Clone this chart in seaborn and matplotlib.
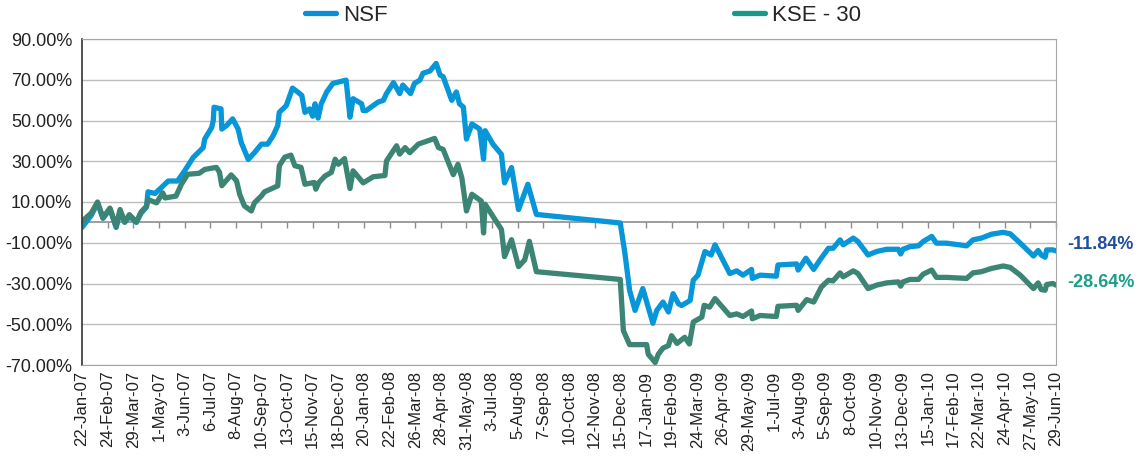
import pandas as pd
import numpy as np
import seaborn as sns
import matplotlib
matplotlib.use("Agg")
import matplotlib.pyplot as plt
import matplotlib.dates as mdates
from matplotlib.lines import Line2D
from matplotlib.transforms import blended_transform_factory

# values (cumulative return, %)
nsf_dates = [
    "2007-01-22", "2007-02-03", "2007-02-11", "2007-02-18", "2007-02-27", "2007-03-07",
    "2007-03-12", "2007-03-18", "2007-03-24", "2007-04-02", "2007-04-08", "2007-04-15",
    "2007-04-17", "2007-04-26", "2007-05-04", "2007-05-13", "2007-05-25", "2007-06-03",
    "2007-06-14", "2007-06-27", "2007-06-29", "2007-07-08", "2007-07-10", "2007-07-11",
    "2007-07-20", "2007-07-21", "2007-07-27", "2007-08-04", "2007-08-11", "2007-08-15",
    "2007-08-24", "2007-09-01", "2007-09-10", "2007-09-18", "2007-09-25", "2007-10-01",
    "2007-10-03", "2007-10-12", "2007-10-20", "2007-10-27", "2007-11-01", "2007-11-05",
    "2007-11-11", "2007-11-15", "2007-11-18", "2007-11-22", "2007-11-26", "2007-11-28",
    "2007-12-03", "2007-12-11", "2007-12-28", "2008-01-02", "2008-01-06", "2008-01-17",
    "2008-01-19", "2008-01-23", "2008-02-07", "2008-02-14", "2008-02-18", "2008-02-27",
    "2008-03-06", "2008-03-10", "2008-03-20", "2008-03-25", "2008-04-01", "2008-04-05",
    "2008-04-14", "2008-04-22", "2008-04-27", "2008-05-01", "2008-05-12", "2008-05-18",
    "2008-05-22", "2008-05-27", "2008-05-31", "2008-06-07", "2008-06-17", "2008-06-22",
    "2008-06-24", "2008-07-04", "2008-07-15", "2008-07-19", "2008-07-28", "2008-08-06",
    "2008-08-18", "2008-08-29", "2008-12-15", "2008-12-21", "2008-12-27", "2009-01-03",
    "2009-01-13", "2009-01-26", "2009-01-31", "2009-02-08", "2009-02-15", "2009-02-21",
    "2009-02-28", "2009-03-04", "2009-03-15", "2009-03-19", "2009-03-25", "2009-04-03",
    "2009-04-11", "2009-04-16", "2009-05-05", "2009-05-14", "2009-05-22", "2009-06-02",
    "2009-06-03", "2009-06-13", "2009-07-04", "2009-07-06", "2009-07-30", "2009-08-01",
    "2009-08-11", "2009-08-21", "2009-08-29", "2009-09-09", "2009-09-15", "2009-09-24",
    "2009-09-28", "2009-10-11", "2009-10-17", "2009-10-30", "2009-11-10", "2009-11-23",
    "2009-12-08", "2009-12-11", "2009-12-14", "2009-12-23", "2010-01-03", "2010-01-09",
    "2010-01-20", "2010-01-26", "2010-02-08", "2010-03-06", "2010-03-14", "2010-03-25",
    "2010-04-07", "2010-04-22", "2010-05-01", "2010-05-14", "2010-05-31", "2010-06-06",
    "2010-06-10", "2010-06-15", "2010-06-17", "2010-06-25", "2010-06-29",
]
nsf_values = [
    -2.5, 3.5, 9.5, 2.0, 6.5, -2.5,
    5.5, 0.0, 3.0, 0.0, 4.5, 7.5,
    15.0, 14.2, 17.0, 20.3, 20.3, 25.2,
    31.8, 36.7, 40.9, 46.6, 49.9, 56.5,
    55.7, 45.8, 47.5, 50.8, 45.8, 39.2,
    30.9, 34.2, 38.4, 38.4, 42.5, 47.5,
    54.0, 57.3, 65.9, 63.9, 62.3, 54.0,
    55.7, 52.1, 58.2, 51.2, 58.2, 59.8,
    64.0, 68.2, 69.8, 51.6, 60.7, 58.2,
    54.9, 54.9, 59.0, 59.9, 63.2, 68.6,
    63.2, 67.4, 63.2, 68.2, 69.8, 73.2,
    74.3, 78.0, 72.3, 71.5, 59.9, 64.0,
    58.2, 56.6, 40.9, 48.3, 45.8, 31.0,
    45.0, 38.4, 33.4, 19.4, 26.9, 6.3,
    18.7, 3.9, -0.3, -15.2, -33.3, -43.2,
    -32.5, -49.5, -43.2, -39.1, -44.0, -35.0,
    -40.0, -40.8, -38.3, -28.4, -25.9, -14.3,
    -16.0, -11.0, -25.1, -23.8, -25.9, -23.1,
    -27.5, -25.9, -26.4, -20.9, -20.4, -23.4,
    -17.6, -23.1, -18.5, -12.7, -12.7, -8.6,
    -11.0, -7.7, -9.4, -16.0, -14.3, -13.2,
    -13.2, -15.5, -13.2, -11.9, -11.5, -9.4,
    -6.9, -10.2, -10.2, -11.5, -8.6, -7.7,
    -5.8, -4.9, -5.6, -10.2, -16.5, -13.8,
    -16.0, -17.1, -13.5, -13.5, -14.0,
]

kse_dates = [
    "2007-01-22", "2007-02-03", "2007-02-11", "2007-02-18", "2007-02-27", "2007-03-07",
    "2007-03-12", "2007-03-18", "2007-03-24", "2007-04-02", "2007-04-08", "2007-04-15",
    "2007-04-17", "2007-04-28", "2007-05-06", "2007-05-09", "2007-05-23", "2007-05-30",
    "2007-06-07", "2007-06-22", "2007-06-29", "2007-07-14", "2007-07-18", "2007-07-21",
    "2007-08-02", "2007-08-09", "2007-08-13", "2007-08-19", "2007-08-28", "2007-09-01",
    "2007-09-10", "2007-09-14", "2007-10-01", "2007-10-03", "2007-10-10", "2007-10-18",
    "2007-10-23", "2007-10-31", "2007-11-05", "2007-11-17", "2007-11-19", "2007-11-23",
    "2007-12-01", "2007-12-09", "2007-12-14", "2007-12-18", "2007-12-26", "2008-01-02",
    "2008-01-06", "2008-01-19", "2008-02-01", "2008-02-16", "2008-02-18", "2008-03-02",
    "2008-03-06", "2008-03-13", "2008-03-19", "2008-03-30", "2008-04-20", "2008-04-25",
    "2008-05-01", "2008-05-14", "2008-05-20", "2008-05-25", "2008-05-31", "2008-06-07",
    "2008-06-19", "2008-06-22", "2008-06-24", "2008-07-15", "2008-07-19", "2008-07-28",
    "2008-08-06", "2008-08-14", "2008-08-20", "2008-08-29", "2008-12-15", "2008-12-19",
    "2008-12-27", "2009-01-18", "2009-01-20", "2009-01-29", "2009-02-02", "2009-02-08",
    "2009-02-15", "2009-02-19", "2009-02-26", "2009-03-08", "2009-03-14", "2009-03-19",
    "2009-03-30", "2009-04-02", "2009-04-09", "2009-04-16", "2009-05-05", "2009-05-14",
    "2009-05-22", "2009-06-02", "2009-06-03", "2009-06-13", "2009-07-04", "2009-07-06",
    "2009-07-30", "2009-08-01", "2009-08-12", "2009-08-21", "2009-08-31", "2009-09-09",
    "2009-09-15", "2009-09-24", "2009-09-28", "2009-10-11", "2009-10-17", "2009-10-30",
    "2009-11-10", "2009-11-23", "2009-12-08", "2009-12-11", "2009-12-14", "2009-12-23",
    "2010-01-03", "2010-01-09", "2010-01-20", "2010-01-26", "2010-02-08", "2010-03-06",
    "2010-03-14", "2010-03-25", "2010-04-07", "2010-04-22", "2010-05-01", "2010-05-14",
    "2010-05-31", "2010-06-06", "2010-06-10", "2010-06-15", "2010-06-17", "2010-06-25",
    "2010-06-29",
]
kse_values = [
    0.5, 4.6, 10.0, 2.2, 7.0, -2.0,
    6.3, 0.2, 3.8, 0.2, 5.1, 7.9,
    11.2, 9.6, 14.5, 12.0, 12.9, 18.7,
    23.6, 24.1, 26.0, 27.0, 24.6, 18.0,
    23.3, 20.4, 13.8, 8.1, 5.6, 9.6,
    13.0, 15.0, 17.9, 27.8, 32.0, 33.0,
    27.8, 27.0, 18.7, 19.6, 16.3, 19.6,
    22.8, 24.5, 31.0, 28.5, 31.3, 16.6,
    25.3, 19.4, 22.4, 23.0, 30.1, 37.6,
    33.5, 36.7, 34.2, 38.4, 41.2, 36.7,
    35.8, 23.4, 28.5, 21.9, 5.6, 13.8,
    10.5, -5.2, 8.9, -3.5, -16.8, -8.5,
    -21.7, -18.4, -9.3, -24.2, -28.0, -53.1,
    -60.0, -60.0, -64.7, -68.8, -64.7, -61.7,
    -60.5, -55.6, -59.4, -56.4, -59.7, -48.9,
    -46.5, -40.7, -41.6, -37.4, -45.7, -44.9,
    -46.2, -43.5, -47.3, -45.7, -46.2, -41.2,
    -40.7, -43.2, -37.9, -39.1, -31.7, -28.4,
    -28.7, -24.8, -26.7, -23.8, -25.1, -32.5,
    -30.8, -29.7, -29.2, -31.3, -29.2, -28.0,
    -28.0, -25.4, -23.4, -27.0, -27.0, -27.5,
    -24.8, -24.2, -22.6, -21.4, -22.1, -25.9,
    -32.5, -29.7, -33.0, -33.3, -30.5, -30.0,
    -30.8,
]

series_names = ["NSF", "KSE - 30"]
line_colors = ["#0796d8", "#3c8473"]
legend_colors = ["#0a8fd4", "#1a998b"]
end_labels = ["-11.84%", "-28.64%"]
end_label_y = [-11.0, -29.4]
end_label_colors = ["#1f4f9f", "#1a9e8c"]
y_ticks = [90, 70, 50, 30, 10, -10, -30, -50, -70]

df = pd.concat([
    pd.DataFrame({"date": pd.to_datetime(nsf_dates), "ret": nsf_values, "series": series_names[0]}),
    pd.DataFrame({"date": pd.to_datetime(kse_dates), "ret": kse_values, "series": series_names[1]}),
])

sns.set_style("white")
plt.rcParams["font.family"] = ["Liberation Sans", "DejaVu Sans"]

fig = plt.figure(figsize=(11.45, 4.58), dpi=100)
ax = fig.add_axes([82 / 1145, 1 - 365 / 458, 974 / 1145, 326 / 458])

sns.lineplot(data=df, x="date", y="ret", hue="series", palette=dict(zip(series_names, line_colors)),
             estimator=None, sort=False, lw=3.8, legend=False, ax=ax)

start = pd.Timestamp("2007-01-22")
end = pd.Timestamp("2010-06-29")
tick_dates = pd.date_range(start, end, freq="33D")
ax.set_xlim(start, end)
ax.set_ylim(-70, 90)
ax.set_xticks(tick_dates)
ax.set_xticklabels([f"{d.day}-{d.strftime('%b-%y')}" for d in tick_dates], rotation=90,
                   fontsize=12, color="#222222")
ax.set_yticks(y_ticks)
ax.set_yticklabels([f"{v:.2f}%" for v in y_ticks], fontsize=13, color="#222222")
ax.tick_params(axis="x", length=0, pad=4)
ax.tick_params(axis="y", length=4, width=1, color="#333333", pad=3)
ax.grid(axis="y", color="#bdbdbd", lw=1)
ax.set_xlabel("")
ax.set_ylabel("")
for side in ["top", "right", "bottom"]:
    ax.spines[side].set_color("#a6a6a6")
ax.spines["left"].set_color("#333333")
ax.spines["left"].set_linewidth(1.2)

# category axis crossing at 0% with its tick marks
zero_ax = ax.secondary_xaxis(70 / 160)
zero_ax.set_xticks(mdates.date2num(tick_dates))
zero_ax.tick_params(axis="x", labelbottom=False, length=4, width=1, color="#8c8c8c", direction="out")
zero_ax.spines["bottom"].set_color("#8c8c8c")
zero_ax.spines["bottom"].set_linewidth(1.2)

handles = [Line2D([], [], color=c, lw=3.8) for c in legend_colors]
fig.legend(handles, series_names, loc="center", bbox_to_anchor=(0.509, 0.966), ncol=2,
           frameon=False, fontsize=16, handlelength=1.4, handletextpad=0.3, columnspacing=15.6)

trans = blended_transform_factory(ax.transAxes, ax.transData)
for txt, yv, c in zip(end_labels, end_label_y, end_label_colors):
    ax.text(1.012, yv, txt, transform=trans, ha="left", va="center", fontsize=13,
            fontweight="bold", color=c)

fig.savefig("out.png", dpi=100)
